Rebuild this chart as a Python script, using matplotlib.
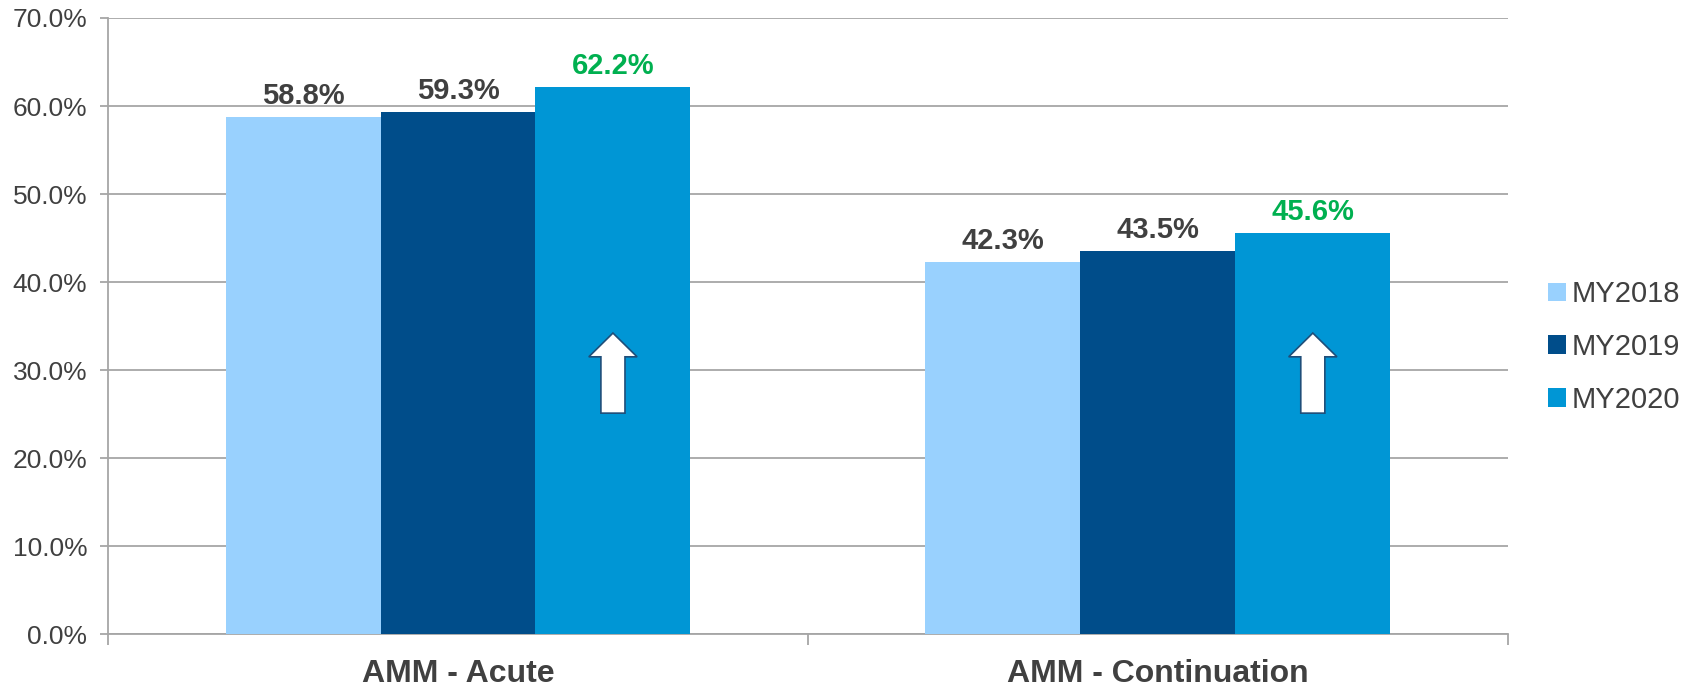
import matplotlib
matplotlib.use("Agg")
import matplotlib.pyplot as plt
import numpy as np
from matplotlib.patches import Polygon

# Data
categories = ["AMM - Acute", "AMM - Continuation"]
series = ["MY2018", "MY2019", "MY2020"]
my2018 = [58.8, 42.3]
my2019 = [59.3, 43.5]
my2020 = [62.2, 45.6]

colors = ["#99D1FE", "#004D8A", "#0096D5"]
label_colors = ["#404040", "#404040", "#00B050"]
text_color = "#404040"
grid_color = "#A6A6A6"

plt.rcParams['font.family'] = ['Liberation Sans', 'DejaVu Sans']

fig = plt.figure(figsize=(17.07, 6.87), dpi=100)
ax = fig.add_axes([0.0633, 0.0771, 0.82, 0.8967])

x = np.arange(len(categories))
w = 0.2214
values = [my2018, my2019, my2020]
containers = []
for i, (name, vals) in enumerate(zip(series, values)):
    bars = ax.bar(x + (i - 1) * w, vals, width=w, color=colors[i],
                  label=name, zorder=3)
    containers.append(bars)
    for bar, v in zip(bars, vals):
        ax.text(bar.get_x() + bar.get_width() / 2, v + 0.8, f"{v:.1f}%",
                ha="center", va="bottom", fontsize=21, fontweight="bold",
                color=label_colors[i], zorder=4)

# up arrows inside the MY2020 bars
for bar in containers[2]:
    cx = bar.get_x() + bar.get_width() / 2
    hw, sw = 0.0345, 0.0172
    pts = [(cx, 34.2), (cx + hw, 31.5), (cx + sw, 31.5), (cx + sw, 25.1),
           (cx - sw, 25.1), (cx - sw, 31.5), (cx - hw, 31.5)]
    ax.add_patch(Polygon(pts, closed=True, facecolor="white",
                         edgecolor="#1F4E79", linewidth=1.2, zorder=5))

ax.set_xlim(-0.5, len(categories) - 0.5)
ax.set_ylim(0, 70)
ax.set_yticks(np.arange(0, 71, 10))
ax.set_yticklabels([f"{t:.1f}%" for t in np.arange(0, 71, 10)],
                   fontsize=19, color=text_color)
ax.yaxis.grid(True, color=grid_color, linewidth=1.3, zorder=0)
ax.set_axisbelow(True)

# category labels between boundary ticks
ax.set_xticks(np.arange(-0.5, len(categories), 1.0))
ax.set_xticklabels([])
ax.set_xticks(x, minor=True)
ax.set_xticklabels(categories, minor=True, fontsize=23, fontweight="bold",
                   color=text_color)
ax.tick_params(axis="x", which="minor", length=0, pad=18)
ax.tick_params(axis="x", which="major", length=8, color=grid_color, width=1.3)
ax.tick_params(axis="y", length=6, color=grid_color, width=1.3, pad=9)

for s in ["top", "right"]:
    ax.spines[s].set_visible(False)
for s in ["left", "bottom"]:
    ax.spines[s].set_color(grid_color)
    ax.spines[s].set_linewidth(1.3)

leg = ax.legend(loc="center left", bbox_to_anchor=(1.01, 0.466), frameon=False,
                fontsize=21, handlelength=0.6, handleheight=0.6,
                handletextpad=0.2, labelspacing=0.85)
for t in leg.get_texts():
    t.set_color(text_color)

fig.savefig("out.png", dpi=100)
